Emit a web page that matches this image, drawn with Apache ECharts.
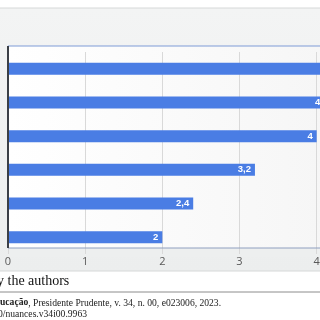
<!DOCTYPE html>
<html>
<head>
<meta charset="utf-8">
<script src="https://cdn.jsdelivr.net/npm/echarts@6/dist/echarts.min.js"></script>
<style>html,body{margin:0;padding:0;background:#fff;overflow:hidden;width:320px;height:320px}#c{width:400px;height:320px}</style>
</head>
<body>
<div id="c"></div>
<script>
// Data read from the (cropped) reference chart
var categories = ['F', 'E', 'D', 'C', 'B', 'A'];
var values = [4.6, 4.2, 4, 3.2, 2.4, 2];
var xTicks = [0, 1, 2, 3, 4, 5];

var chart = echarts.init(document.getElementById('c'), null, {renderer: 'canvas'});
chart.setOption({
  backgroundColor: '#ffffff',
  animation: false,
  grid: {left: 8, top: 52, right: 2, bottom: 66, containLabel: false},
  xAxis: {
    type: 'value', min: xTicks[0], max: xTicks[xTicks.length - 1], interval: 1,
    axisLine: {show: false}, axisTick: {show: false},
    axisLabel: {margin: 2, color: '#595959', fontSize: 11, fontFamily: 'Open Sans'},
    splitLine: {show: true, lineStyle: {color: '#d9d9d9', width: 1}}
  },
  yAxis: {
    type: 'category', data: categories, inverse: true,
    axisLine: {show: false}, axisTick: {show: false}, axisLabel: {show: false},
    splitLine: {show: false}
  },
  series: [{
    type: 'bar', data: values, barWidth: 12,
    itemStyle: {color: '#4a7de4'},
    label: {
      show: true, position: 'insideRight', distance: 4,
      color: '#ffffff', fontWeight: 'bold', fontSize: 9.5, fontFamily: 'Liberation Sans',
      formatter: function (p) { return String(p.value).replace('.', ','); }
    }
  }],
  graphic: {elements: [
    {type: 'rect', z: -20, silent: true, shape: {x: -1, y: 8, width: 402, height: 263},
     style: {fill: new echarts.graphic.LinearGradient(0, 0, 0, 1, [{offset: 0, color: '#f3f4f4'}, {offset: 1, color: '#eceeee'}]), stroke: '#d6d8d8', lineWidth: 1}},
    {type: 'rect', z: -15, silent: true, shape: {x: 8, y: 46, width: 392, height: 202},
     style: {fill: new echarts.graphic.LinearGradient(0, 0, 1, 0, [{offset: 0, color: '#ffffff'}, {offset: 0.8, color: '#f6f6f6'}, {offset: 1, color: '#f6f6f6'}])}},
    {type: 'line', z: 50, silent: true, shape: {x1: 8, y1: 46, x2: 400, y2: 46}, style: {stroke: '#7f9bd6', lineWidth: 1}},
    {type: 'line', z: 50, silent: true, shape: {x1: 8, y1: 248, x2: 400, y2: 248}, style: {stroke: '#8f9fbf', lineWidth: 1.2}},
    {type: 'line', z: 50, silent: true, shape: {x1: 8, y1: 46, x2: 8, y2: 248}, style: {stroke: '#3b3f46', lineWidth: 2}},
    {type: 'rect', z: -16, silent: true, shape: {x: 8, y: 248.5, width: 392, height: 8}, style: {fill: '#edefef'}},
    {type: 'line', z: 50, silent: true, shape: {x1: 0, y1: 292, x2: 400, y2: 292}, style: {stroke: '#8c8c8c', lineWidth: 1}},
    {type: 'text', z: 50, silent: true, x: -3, y: 281,
     style: {text: 'y the authors', font: '14px "Liberation Serif"', fill: '#111', textVerticalAlign: 'middle'}},
    {type: 'text', z: 50, silent: true, x: 0, y: 303,
     style: {text: '{b|ucação}, Presidente Prudente, v. 34, n. 00, e023006, 2023.', font: '9.6px "Liberation Serif"', fill: '#222', textVerticalAlign: 'middle',
       rich: {b: {fontWeight: 'bold', fontFamily: 'Liberation Serif', fontSize: 9.6, fill: '#222'}}}},
    {type: 'text', z: 50, silent: true, x: -2, y: 314,
     style: {text: '0/nuances.v34i00.9963', font: '9.6px "Liberation Serif"', fill: '#222', textVerticalAlign: 'middle'}}
  ]}
});
</script>
</body>
</html>
